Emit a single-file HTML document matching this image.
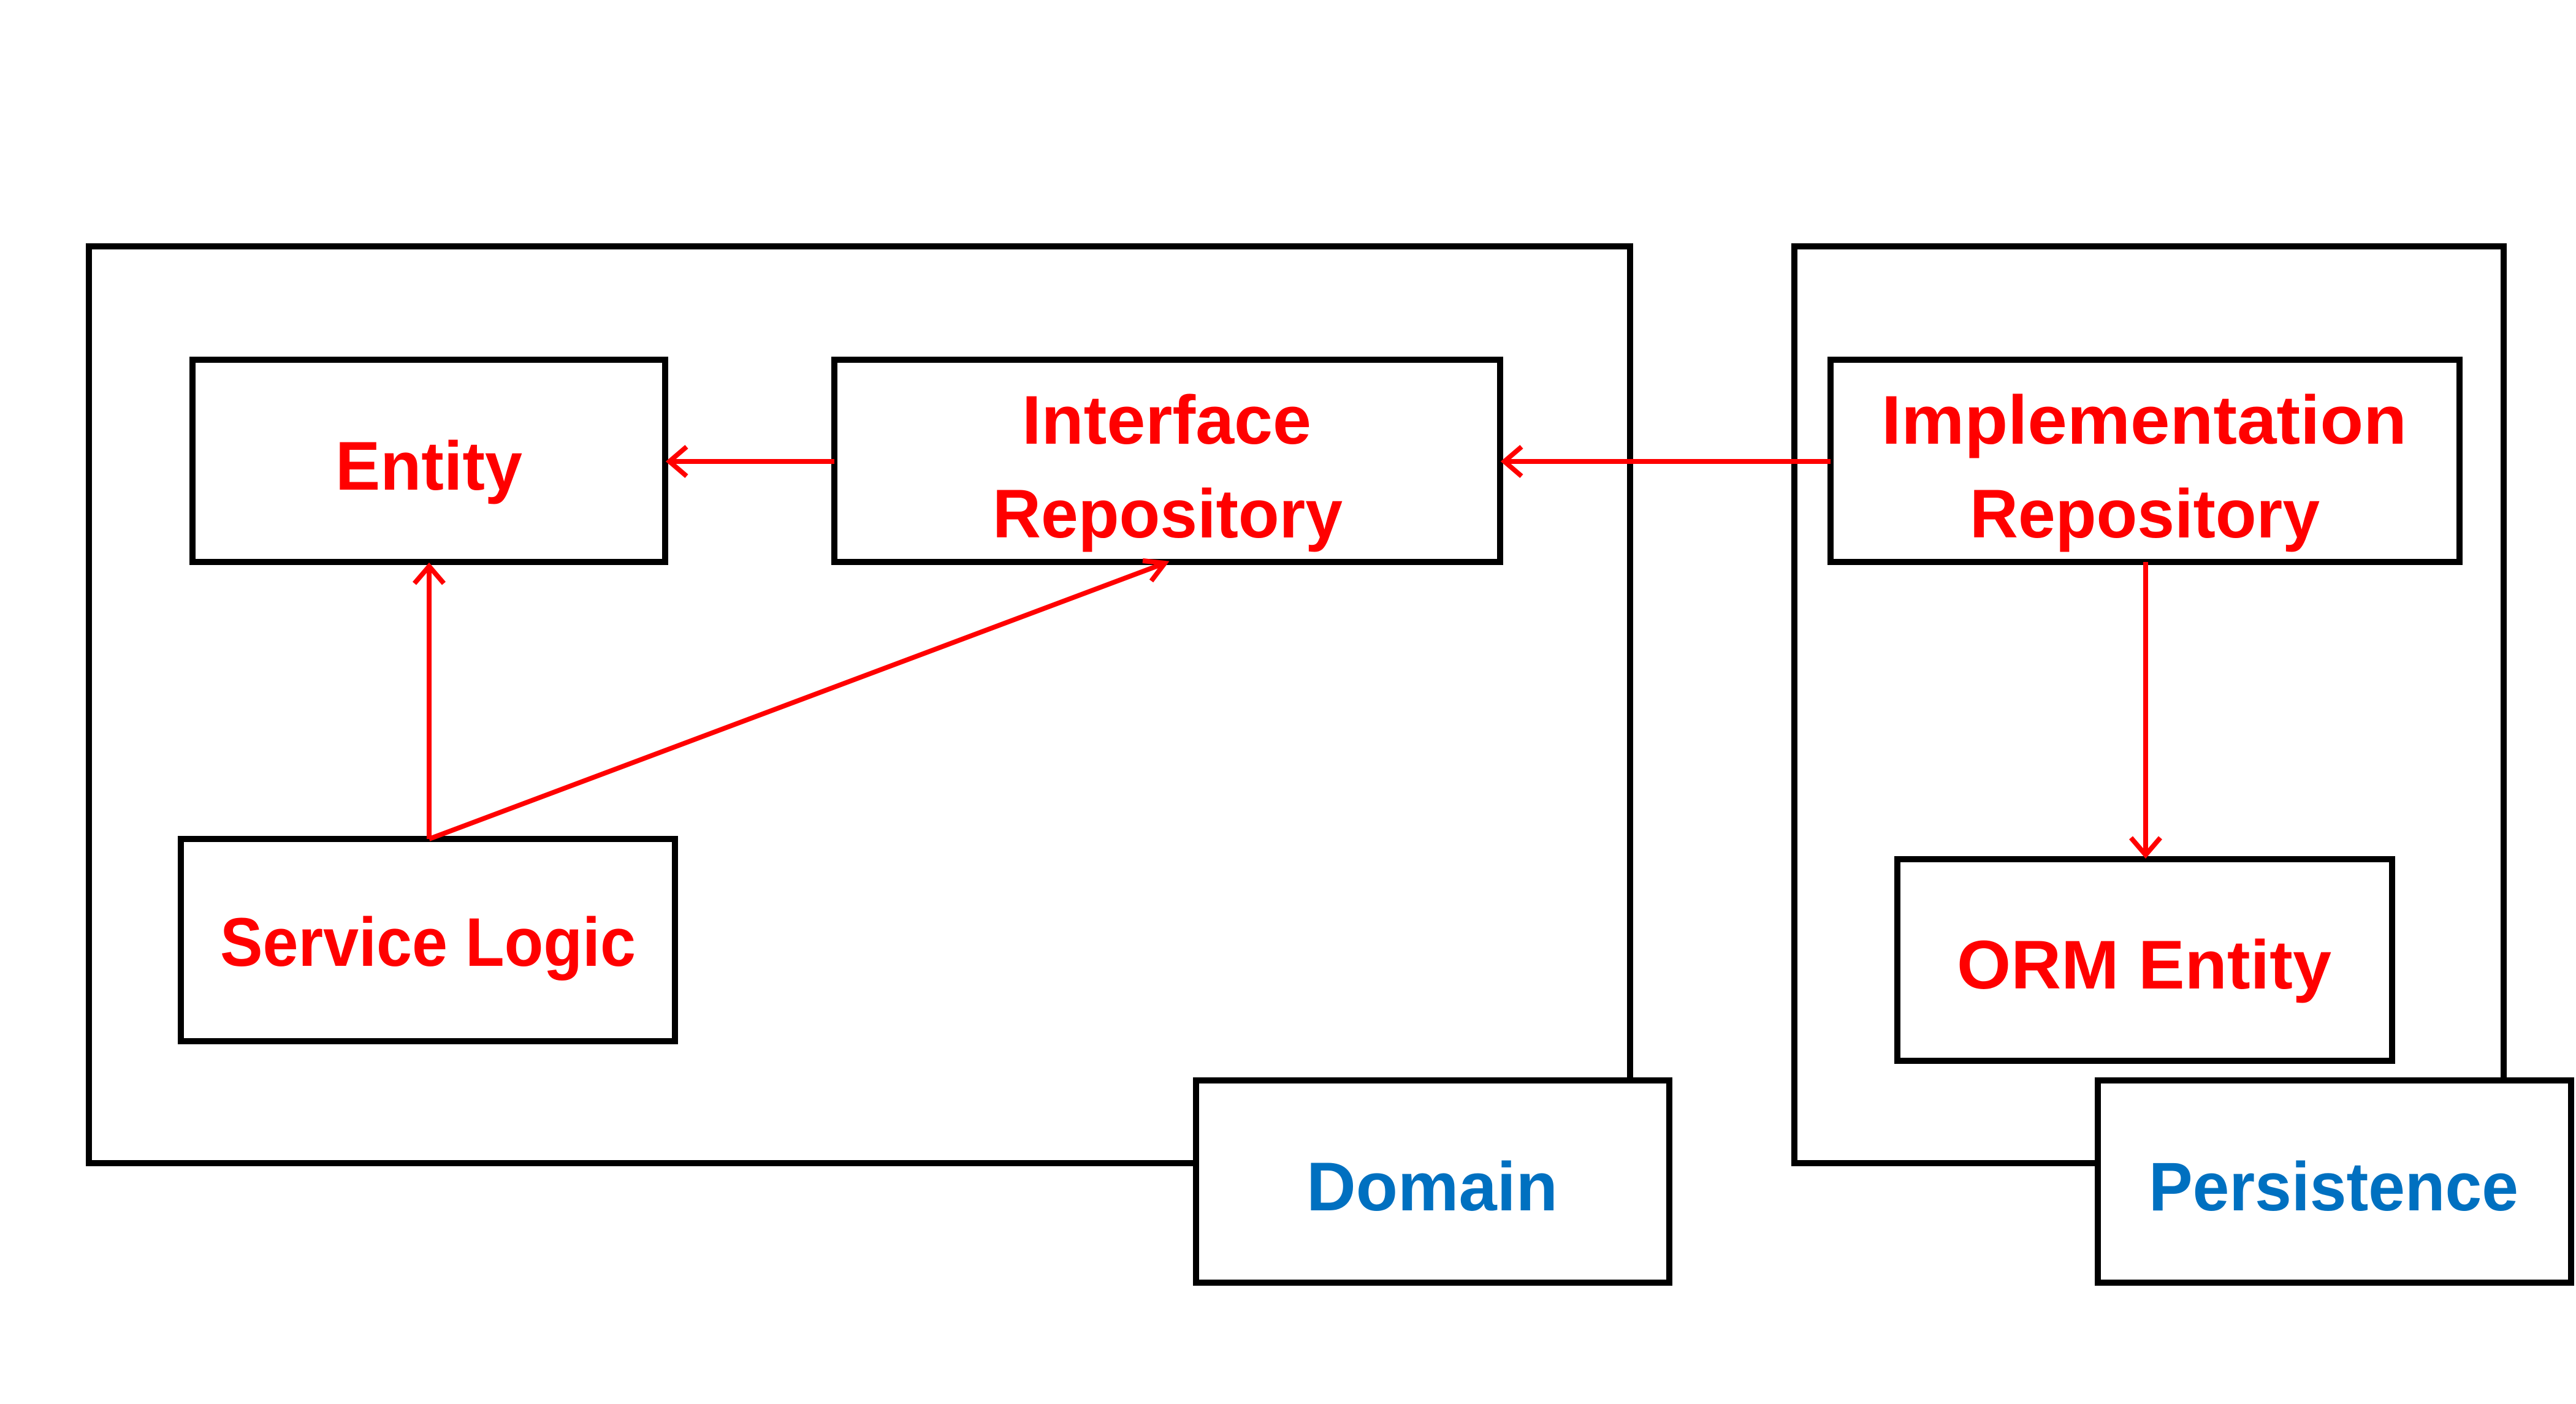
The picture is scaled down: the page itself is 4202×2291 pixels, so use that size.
<!DOCTYPE html>
<html><head><meta charset="utf-8"><style>html,body{margin:0;padding:0;background:#fff}svg{display:block}</style></head>
<body>
<svg width="4202" height="2291" viewBox="0 0 4202 2291" xmlns="http://www.w3.org/2000/svg">
<g fill="#fff" stroke="#000" stroke-width="10">
<rect x="145" y="402" width="2514" height="1496"/>
<rect x="2927" y="402" width="1157" height="1496"/>
<rect x="314" y="587" width="771" height="330"/>
<rect x="1361" y="587" width="1086" height="330"/>
<rect x="295" y="1369" width="806" height="330"/>
<rect x="2986" y="587" width="1026" height="330"/>
<rect x="3095" y="1402" width="807" height="329"/>
<rect x="1951" y="1763" width="772" height="330"/>
<rect x="3422" y="1763" width="772" height="330"/>
</g>
<g stroke="#f00" stroke-width="8" fill="none">
<line x1="1361" y1="753" x2="1092" y2="753"/>
<polyline points="1120,729 1092,753 1120,777"/>
<line x1="2986" y1="753" x2="2454" y2="753"/>
<polyline points="2482,729 2454,753 2482,777"/>
<line x1="700" y1="1369" x2="700" y2="924"/>
<polyline points="676,952 700,924 724,952"/>
<line x1="700" y1="1369" x2="1900" y2="919"/>
<polyline points="1864,915 1900,919 1878,948"/>
<line x1="3500" y1="917" x2="3500" y2="1395"/>
<polyline points="3476,1367 3500,1395 3524,1367"/>
</g>
<g font-family="Liberation Sans, sans-serif" font-weight="bold" font-size="112" fill="#f00">
<text x="547" y="799" textLength="305" lengthAdjust="spacingAndGlyphs">Entity</text>
<text x="1667" y="724" textLength="472" lengthAdjust="spacingAndGlyphs">Interface</text>
<text x="1619" y="877" textLength="571" lengthAdjust="spacingAndGlyphs">Repository</text>
<text x="359" y="1576" textLength="678" lengthAdjust="spacingAndGlyphs">Service Logic</text>
<text x="3069" y="724" textLength="857" lengthAdjust="spacingAndGlyphs">Implementation</text>
<text x="3213" y="877" textLength="571" lengthAdjust="spacingAndGlyphs">Repository</text>
<text x="3192" y="1613" textLength="611" lengthAdjust="spacingAndGlyphs">ORM Entity</text>
<text x="2131" y="1975" textLength="410" lengthAdjust="spacingAndGlyphs" fill="#0070c0">Domain</text>
<text x="3505" y="1975" textLength="603" lengthAdjust="spacingAndGlyphs" fill="#0070c0">Persistence</text>
</g>
</svg>
</body></html>
